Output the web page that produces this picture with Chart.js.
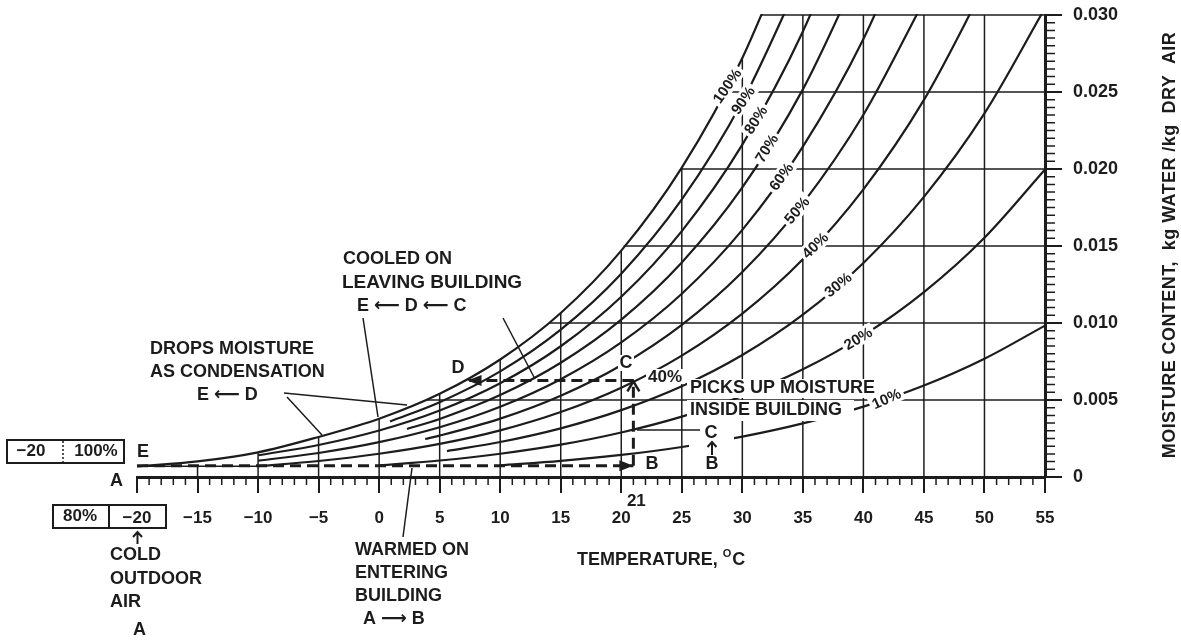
<!DOCTYPE html>
<html><head><meta charset="utf-8">
<script src="https://cdn.jsdelivr.net/npm/chart.js@4.4.1/dist/chart.umd.min.js"></script>
<style>
html,body{margin:0;padding:0;background:#fff;}
canvas{display:block;}
</style></head><body>
<canvas id="c" width="1181" height="641"></canvas>
<script>
// ---------------- DATA ----------------
// Axis tick labels
const tempTicks  = [-20,-15,-10,-5,0,5,10,15,20,25,30,35,40,45,50,55];
const moistTicks = [0,0.005,0.010,0.015,0.020,0.025,0.030];

// Relative humidity curves: [temperature °C, moisture content kg water / kg dry air]
const rh100 = [[-20,0.00069],[-15,0.00101],[-10,0.0016],[-5,0.0026],[0,0.00378],[5,0.0054],[10,0.00763],[15,0.01065],[20,0.0147],[25,0.02009],[30,0.02721],[35,0.0366]];
const rh90  = [[0.9,0.00361],[5,0.00486],[10,0.00686],[15,0.00957],[20,0.0132],[25,0.01802],[30,0.02438],[35,0.03273]];
const rh80  = [[-10,0.00141],[-5,0.00208],[0,0.00302],[5,0.00432],[10,0.00609],[15,0.00849],[20,0.0117],[25,0.01597],[30,0.02158],[35,0.02893],[40,0.03851]];
const rh70  = [[2.3,0.00312],[5,0.00377],[10,0.00532],[15,0.00742],[20,0.01022],[25,0.01393],[30,0.0188],[35,0.02517],[40,0.03344]];
const rh60  = [[-10,0.00106],[-5,0.00156],[0,0.00226],[5,0.00323],[10,0.00456],[15,0.00635],[20,0.00874],[25,0.0119],[30,0.01605],[35,0.02145],[40,0.02844],[45,0.03747]];
const rh50  = [[3.8,0.00247],[5,0.00269],[10,0.00379],[15,0.00528],[20,0.00726],[25,0.00988],[30,0.01331],[35,0.01777],[40,0.02352],[45,0.03091]];
const rh40  = [[-10,0.0007],[-5,0.00104],[0,0.00151],[5,0.00215],[10,0.00303],[15,0.00422],[20,0.0058],[25,0.00788],[30,0.01061],[35,0.01414],[40,0.01868],[45,0.02449],[50,0.03188]];
const rh30  = [[5.6,0.00168],[10,0.00227],[15,0.00316],[20,0.00434],[25,0.00589],[30,0.00792],[35,0.01054],[40,0.0139],[45,0.01819],[50,0.02361],[55,0.03045]];
const rh20  = [[0,0.00075],[5,0.00107],[10,0.00151],[15,0.0021],[20,0.00289],[25,0.00392],[30,0.00526],[35,0.00699],[40,0.0092],[45,0.01201],[50,0.01554],[55,0.01997]];
const rh10  = [[10,0.00076],[15,0.00105],[20,0.00144],[25,0.00195],[30,0.00262],[35,0.00348],[40,0.00457],[45,0.00594],[50,0.00768],[55,0.00983]];
const rhNames  = ['100%','90%','80%','70%','60%','50%','40%','30%','20%','10%'];
const rhLabelT = [28.73,30.05,31.1,32.0,33.2,34.5,36.0,37.9,39.55,41.9];

// Chart grid (drawn only below / right of the saturation curve)
const gridT      = [-15,-10,-5,0,5,10,15,20,25,30,35,40,45,50];
const gridTopW   = [0.00069,0.0016,0.0026,0.00378,0.0054,0.00763,0.01065,0.0147,0.02009,0.02721,0.030,0.030,0.030,0.030];
const gridW      = [0.005,0.010,0.015,0.020,0.025,0.030];
const gridStartT = [3.9,14.1,20.2,24.9,28.7,31.6];
const coldBase   = [[-20,0.00069],[-10,0.00069]];

// Process: A -> B (warmed), B -> C (picks up moisture), C -> D (cooled)
const pathAB = [[-20,0.00073],[21,0.00073]];
const pathBC = [[21,0.00073],[21,0.00627]];
const pathCD = [[21,0.00627],[7.3,0.00627]];

// ---------------- STYLE ----------------
const FONT = "'Liberation Sans', Arial, Helvetica, 'DejaVu Sans', sans-serif";
const INK = '#1c1c1c';

const pts = a => a.map(p => ({x: p[0], y: p[1]}));
const curves = [rh100, rh90, rh80, rh70, rh60, rh50, rh40, rh30, rh20, rh10];

const datasets = [];
[pathAB, pathBC, pathCD].forEach(p => datasets.push({
  data: pts(p), showLine: true, pointRadius: 0, borderColor: INK, borderWidth: 3,
  borderDash: [11, 6], fill: false, order: 0, clip: false
}));
curves.forEach(c => datasets.push({
  data: pts(c), showLine: true, pointRadius: 0, borderColor: INK, borderWidth: 2.2,
  cubicInterpolationMode: 'monotone', fill: false, order: 1, clip: 1
}));
gridT.forEach((t, i) => datasets.push({
  data: [{x: t, y: 0}, {x: t, y: gridTopW[i]}], showLine: true, pointRadius: 0,
  borderColor: INK, borderWidth: 1.5, fill: false, order: 2, clip: false
}));
gridW.forEach((w, i) => datasets.push({
  data: [{x: gridStartT[i], y: w}, {x: 55, y: w}], showLine: true, pointRadius: 0,
  borderColor: INK, borderWidth: 1.5, fill: false, order: 2, clip: false
}));
datasets.push({data: pts(coldBase), showLine: true, pointRadius: 0, borderColor: INK,
  borderWidth: 1.5, fill: false, order: 2, clip: false});

function interp(arr, t) {
  for (let i = 0; i < arr.length - 1; i++) {
    const a = arr[i], b = arr[i + 1];
    if (t >= a[0] && t <= b[0]) return a[1] + (b[1] - a[1]) * (t - a[0]) / (b[0] - a[0]);
  }
  return arr[arr.length - 1][1];
}

const rhLabelAngle = [-55,-55,-57,-58,-54,-50,-44,-39,-31,-24];

const annot = {
  id: 'annot',
  afterDatasetsDraw(chart) {
    const ctx = chart.ctx, xs = chart.scales.x, ys = chart.scales.y;
    const X = v => xs.getPixelForValue(v), Y = v => ys.getPixelForValue(v);
    ctx.save();
    ctx.strokeStyle = INK; ctx.fillStyle = INK;

    // minor ticks
    ctx.lineWidth = 1.5;
    ctx.beginPath();
    for (let t = -19; t < 55; t++) {
      if (t % 5 === 0) continue;
      const px = X(t);
      ctx.moveTo(px, Y(0)); ctx.lineTo(px, Y(0) + 8);
    }
    for (let k = 1; k < 60; k++) {
      if (k % 10 === 0) continue;
      const py = Y(k * 0.0005);
      ctx.moveTo(X(55), py); ctx.lineTo(X(55) + 10, py);
    }
    ctx.stroke();

    // arrowheads
    const tri = (x, y, dx, dy, len, hw) => {
      const nx = -dy, ny = dx;
      ctx.beginPath();
      ctx.moveTo(x, y);
      ctx.lineTo(x - dx * len + nx * hw, y - dy * len + ny * hw);
      ctx.lineTo(x - dx * len - nx * hw, y - dy * len - ny * hw);
      ctx.closePath(); ctx.fill();
    };
    const B = pathAB[1], C = pathBC[1], D = pathCD[1];
    tri(X(B[0]), Y(B[1]), 1, 0, 14, 5.5);
    tri(X(D[0]), Y(D[1]), -1, 0, 14, 5.5);
    ctx.lineWidth = 2.5;
    ctx.beginPath();
    ctx.moveTo(X(C[0]) - 6, Y(C[1]) + 11); ctx.lineTo(X(C[0]), Y(C[1]) + 1); ctx.lineTo(X(C[0]) + 6, Y(C[1]) + 11);
    ctx.stroke();

    const white = (x0, y0, x1, y1) => { ctx.fillStyle = '#fff'; ctx.fillRect(x0, y0, x1 - x0, y1 - y0); ctx.fillStyle = INK; };
    const text = (s, x, y, size, align) => {
      ctx.font = 'bold ' + size + 'px ' + FONT;
      ctx.textAlign = align || 'left'; ctx.textBaseline = 'middle';
      ctx.fillText(s, x, y);
    };
    const seg = (x0, y0, x1, y1, w) => {
      ctx.lineWidth = w || 1.5; ctx.beginPath(); ctx.moveTo(x0, y0); ctx.lineTo(x1, y1); ctx.stroke();
    };
    const upArrow = (x, y0, y1) => {
      ctx.lineWidth = 2;
      ctx.beginPath();
      ctx.moveTo(x, y1); ctx.lineTo(x, y0);
      ctx.moveTo(x - 4.5, y0 + 5); ctx.lineTo(x, y0); ctx.lineTo(x + 4.5, y0 + 5);
      ctx.stroke();
    };

    // RH curve labels on the curves
    curves.forEach((c, i) => {
      const t = rhLabelT[i];
      const px = X(t), py = Y(interp(c, t));
      ctx.save();
      ctx.translate(px, py);
      ctx.rotate(rhLabelAngle[i] * Math.PI / 180);
      ctx.font = 'bold 15px ' + FONT;
      const w = ctx.measureText(rhNames[i]).width;
      ctx.fillStyle = '#fff'; ctx.fillRect(-w / 2 - 3, -8, w + 6, 16);
      ctx.fillStyle = INK; ctx.textAlign = 'center'; ctx.textBaseline = 'middle';
      ctx.fillText(rhNames[i], 0, 1);
      ctx.restore();
    });

    // label backgrounds
    white(687, 379, 877, 398);
    white(687, 400, 854, 421);
    white(689, 424, 734, 474);
    white(618, 355, 634, 371);
    white(646, 369, 685, 384);
    white(450, 360, 466, 376);
    white(645, 456, 660, 472);

    // pointer lines
    ctx.strokeStyle = INK;
    seg(363, 318, 378, 417);
    seg(503, 318, 535, 379);
    seg(284, 393, 407, 405);
    seg(287, 397, 322, 435);
    seg(403, 537, 412, 468);
    seg(637, 430, 700, 430);

    // texts
    text('COOLED ON', 343, 259, 18);
    text('LEAVING BUILDING', 342, 282.5, 19);
    text('E \u27F5 D \u27F5 C', 357, 306, 18);
    text('DROPS MOISTURE', 150, 349.5, 18);
    text('AS CONDENSATION', 150, 372.5, 18);
    text('E \u27F5 D', 197, 395, 18);
    text('D', 458, 368, 18, 'center');
    text('C', 626, 363, 18, 'center');
    text('40%', 665, 377, 17, 'center');
    text('B', 652, 464, 18, 'center');
    text('PICKS UP MOISTURE', 690, 388.5, 18);
    text('INSIDE BUILDING', 690, 410.5, 18);
    text('C', 711, 433.5, 18, 'center');
    upArrow(712, 442, 455);
    text('B', 712, 464, 18, 'center');
    text('21', X(21) + 3, 501, 17, 'center');
    text('E', 137, 452, 18);
    text('A', 110, 481.5, 18);

    // state boxes
    ctx.lineWidth = 2;
    ctx.strokeRect(7, 440, 117, 23);
    ctx.save(); ctx.setLineDash([2, 2]); seg(63, 441, 63, 462, 1.5); ctx.restore();
    text('\u221220', 31, 451.5, 17, 'center');
    text('100%', 96, 451.5, 17, 'center');
    ctx.lineWidth = 2;
    ctx.strokeRect(53, 505, 113, 23);
    seg(109, 505, 109, 528, 2);
    text('80%', 80, 516.5, 17, 'center');

    upArrow(137.5, 532, 544);
    text('COLD', 110, 555, 18);
    text('OUTDOOR', 110, 579.5, 18);
    text('AIR', 110, 602.5, 18);
    text('A', 139.5, 630.5, 18, 'center');

    text('WARMED ON', 355, 550, 18);
    text('ENTERING', 355, 573.5, 18);
    text('BUILDING', 355, 596, 18);
    text('A \u27F6 B', 363, 619.5, 18);

    // x axis title with superscript degree mark
    ctx.font = 'bold 18px ' + FONT;
    const tt = 'TEMPERATURE, ';
    const tw = ctx.measureText(tt).width;
    text(tt, 577, 560, 18);
    text('O', 577 + tw, 554, 11);
    ctx.font = 'bold 11px ' + FONT;
    const ow = ctx.measureText('O').width;
    text('C', 577 + tw + ow + 1, 560, 18);

    // y axis title (reads bottom to top)
    ctx.save();
    ctx.translate(1170, 245);
    ctx.rotate(-Math.PI / 2);
    ctx.font = 'bold 18px ' + FONT;
    const yt = 'MOISTURE CONTENT,  kg WATER /kg  DRY  AIR';
    const yw = ctx.measureText(yt).width;
    try { ctx.letterSpacing = Math.max(0, (426 - yw) / (yt.length - 1)) + 'px'; } catch (e) {}
    ctx.textAlign = 'center'; ctx.textBaseline = 'middle'; ctx.fillStyle = INK;
    ctx.fillText(yt, 0, 0);
    ctx.restore();

    ctx.restore();
  }
};

const fmtT = v => v < 0 ? '\u2212' + Math.abs(v) : String(v);

new Chart(document.getElementById('c'), {
  type: 'scatter',
  data: {datasets},
  options: {
    responsive: false, animation: false, events: [],
    layout: {padding: {left: 137, top: 15, right: 0, bottom: 0}},
    plugins: {legend: {display: false}, tooltip: {enabled: false}},
    scales: {
      x: {
        type: 'linear', position: 'bottom', min: -20, max: 55,
        afterFit: s => { s.height = 164; s.paddingLeft = 0; s.paddingRight = 0; },
        afterBuildTicks: s => { s.ticks = tempTicks.map(v => ({value: v})); },
        ticks: {autoSkip: false, maxRotation: 0, padding: 15, color: INK,
          font: {family: FONT, size: 17, weight: 'bold'}, callback: v => fmtT(v)},
        grid: {drawOnChartArea: false, drawTicks: true, tickLength: 16, color: INK, lineWidth: 2},
        border: {display: true, color: INK, width: 3}
      },
      y: {
        type: 'linear', position: 'right', min: 0, max: 0.030,
        afterFit: s => { s.width = 136; s.paddingTop = 0; s.paddingBottom = 0; },
        afterBuildTicks: s => { s.ticks = moistTicks.map(v => ({value: v})); },
        ticks: {autoSkip: false, padding: 11, color: INK,
          font: {family: FONT, size: 18, weight: 'bold'}, callback: v => v === 0 ? '0' : v.toFixed(3)},
        grid: {drawOnChartArea: false, drawTicks: true, tickLength: 17, color: INK, lineWidth: 2},
        border: {display: true, color: INK, width: 3}
      }
    }
  },
  plugins: [annot]
});
</script>
</body></html>
